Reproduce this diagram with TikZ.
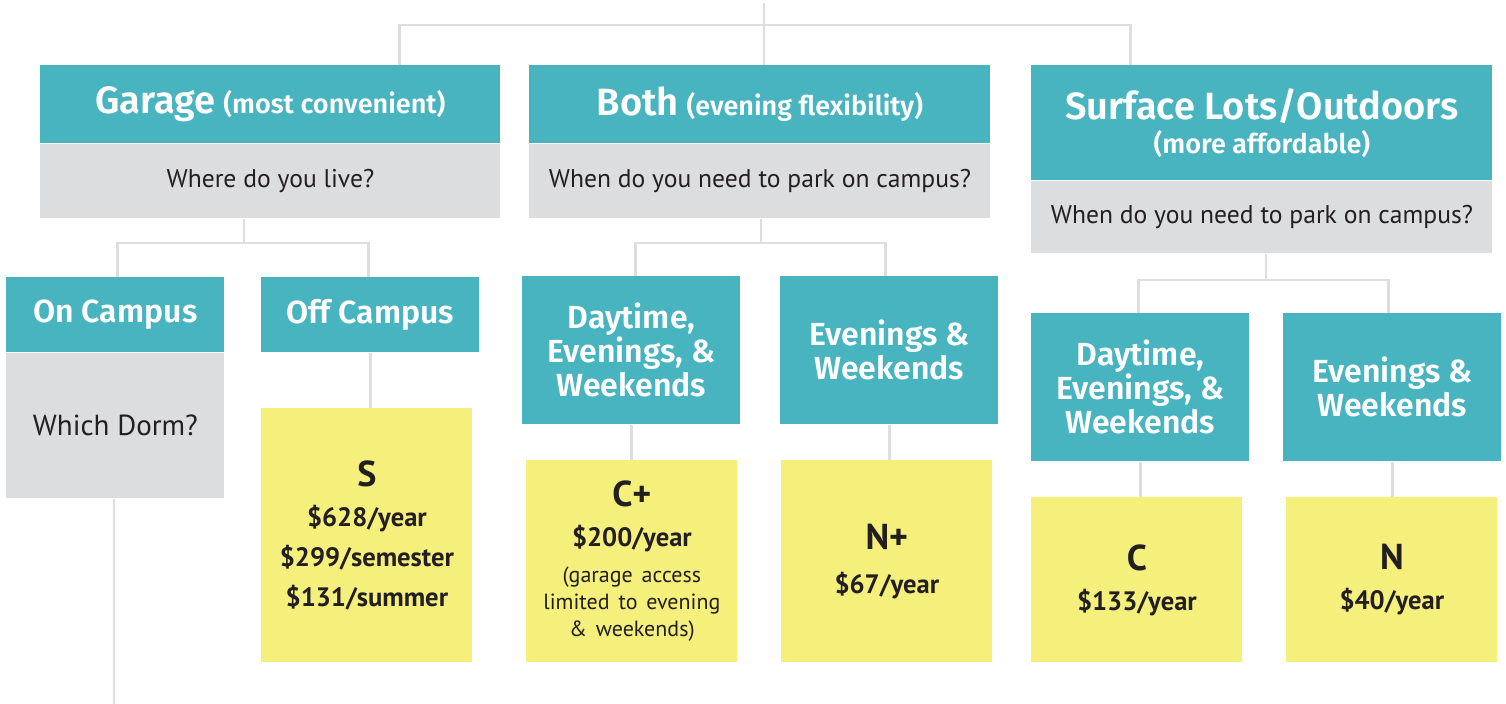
\documentclass[tikz,border=0pt]{standalone}
\usepackage{fontspec}
\setmainfont{PT Sans}
\newfontfamily\headfont{Fira Sans}[BoldFont={Fira Sans SemiBold}]
\usetikzlibrary{positioning}

\definecolor{tealbox}{HTML}{47B4BF}
\definecolor{greybox}{HTML}{DCDDDF}
\definecolor{yellowbox}{HTML}{F5EF7C}
\definecolor{linegrey}{HTML}{DEDEDE}
\definecolor{ink}{HTML}{231F20}
\newcommand{\fsz}[2]{\fontsize{#1}{#2}\selectfont}

\tikzset{
	hdr/.style={fill=tealbox, text=white, font=\headfont\bfseries\fsz{16}{17}, align=center, inner sep=0pt, minimum width=109pt, anchor=north west},
	ask/.style={fill=greybox, text=ink, font=\fsz{12.8}{16}, align=center, inner sep=0pt},
	fee/.style={fill=yellowbox, text=ink, font=\bfseries\fsz{13.3}{20}, align=center, text width=105.5pt, inner sep=0pt, anchor=north west},
	link/.style={draw=linegrey, line width=1.3pt}
}

\begin{document}
\begin{tikzpicture}[x=0.5pt, y=-0.5pt]
	\useasboundingbox (0,0) rectangle (1506,704);

	\node[hdr, minimum width=230pt, minimum height=39pt] (garage) at (40,65) {{\fsz{19}{20}Garage} {\fsz{13.5}{15}(most convenient)}};
	\node[ask, below=0pt of garage, minimum width=230pt, minimum height=37pt] (garageq) {Where do you live?};
	\node[hdr, minimum width=230.5pt, minimum height=39pt] (both) at (529,65) {{\fsz{19}{20}Both} {\fsz{13.5}{15}(evening flexibility)}};
	\node[ask, below=0pt of both, minimum width=230.5pt, minimum height=37pt] (bothq) {When do you need to park on campus?};
	\node[hdr, minimum width=230.5pt, minimum height=57.5pt] (surface) at (1031,65) {{\fsz{19}{16}Surface Lots/Outdoors}\\{\fsz{13.5}{16}(more affordable)}};
	\node[ask, below=0pt of surface, minimum width=230.5pt, minimum height=36pt] (surfaceq) {When do you need to park on campus?};

	\node[hdr, minimum height=37.5pt] (oncampus) at (6,277) {On Campus};
	\node[ask, below=0pt of oncampus, minimum width=109pt, minimum height=72.5pt, font=\fsz{14.5}{17}] (dorm) {Which Dorm?};
	\node[hdr, minimum height=37.5pt] (offcampus) at (261,277) {Off Campus};
	\node[fee, minimum height=127pt] (spass) at (261,408) {{\fsz{18}{20}S}\\\$628/year\\\$299/semester\\\$131/summer};

	\node[hdr, minimum height=74pt] (dayboth) at (522,276) {Daytime,\\Evenings, \&\\Weekends};
	\node[hdr, minimum height=74pt] (eveboth) at (780,276) {Evenings \&\\Weekends};
	\node[fee, minimum height=101pt] (cplus) at (526,460) {{\fsz{18}{20}C+}\\\$200/year\\[4.5pt]{\mdseries\fsz{11}{13.5}(garage access\\limited to evening\\\&~weekends)\par}};
	\node[fee, minimum height=101pt] (nplus) at (781,460) {{\fsz{18}{20}N+}\\[2pt]\$67/year};

	\node[hdr, minimum height=74pt] (daysurf) at (1031,313) {Daytime,\\Evenings, \&\\Weekends};
	\node[hdr, minimum height=74pt] (evesurf) at (1283,313) {Evenings \&\\Weekends};
	\node[fee, minimum height=82.5pt] (cpass) at (1031,497) {{\fsz{18}{20}C}\\\$133/year};
	\node[fee, minimum height=82.5pt] (npass) at (1286,497) {{\fsz{18}{20}N}\\\$40/year};

	\coordinate (root) at (764,3);
	\coordinate (rootj) at (764,25);
	\coordinate (garagej) at (244,243);
	\coordinate (bothj) at (761,243);
	\coordinate (surfacej) at (1266,280);
	\coordinate (dormend) at (114,704);

	\draw[link] (root) -- (both.north -| root);
	\draw[link] ([xshift=64.5pt]garage.north) |- (rootj) -| ([xshift=-65.75pt]surface.north);
	\draw[link] (garageq.south -| garagej) -- (garagej);
	\draw[link] ([xshift=1pt]oncampus.north) |- (garagej) -| ([xshift=-1pt]offcampus.north);
	\draw[link] (bothq.south -| bothj) -- (bothj);
	\draw[link] ([xshift=2pt]dayboth.north) |- (bothj) -| ([xshift=-2pt]eveboth.north);
	\draw[link] (surfaceq.south -| surfacej) -- (surfacej);
	\draw[link] ([xshift=-1pt]daysurf.north) |- (surfacej) -| ([xshift=-2pt]evesurf.north);
	\draw[link] (dorm.south -| dormend) -- (dormend);
	\draw[link] (offcampus.south) -- (spass.north -| offcampus.south);
	\draw[link] (dayboth.south) -- (cplus.north -| dayboth.south);
	\draw[link] (eveboth.south) -- (nplus.north -| eveboth.south);
	\draw[link] (daysurf.south) -- (cpass.north -| daysurf.south);
	\draw[link] (evesurf.south) -- (npass.north -| evesurf.south);
\end{tikzpicture}
\end{document}
